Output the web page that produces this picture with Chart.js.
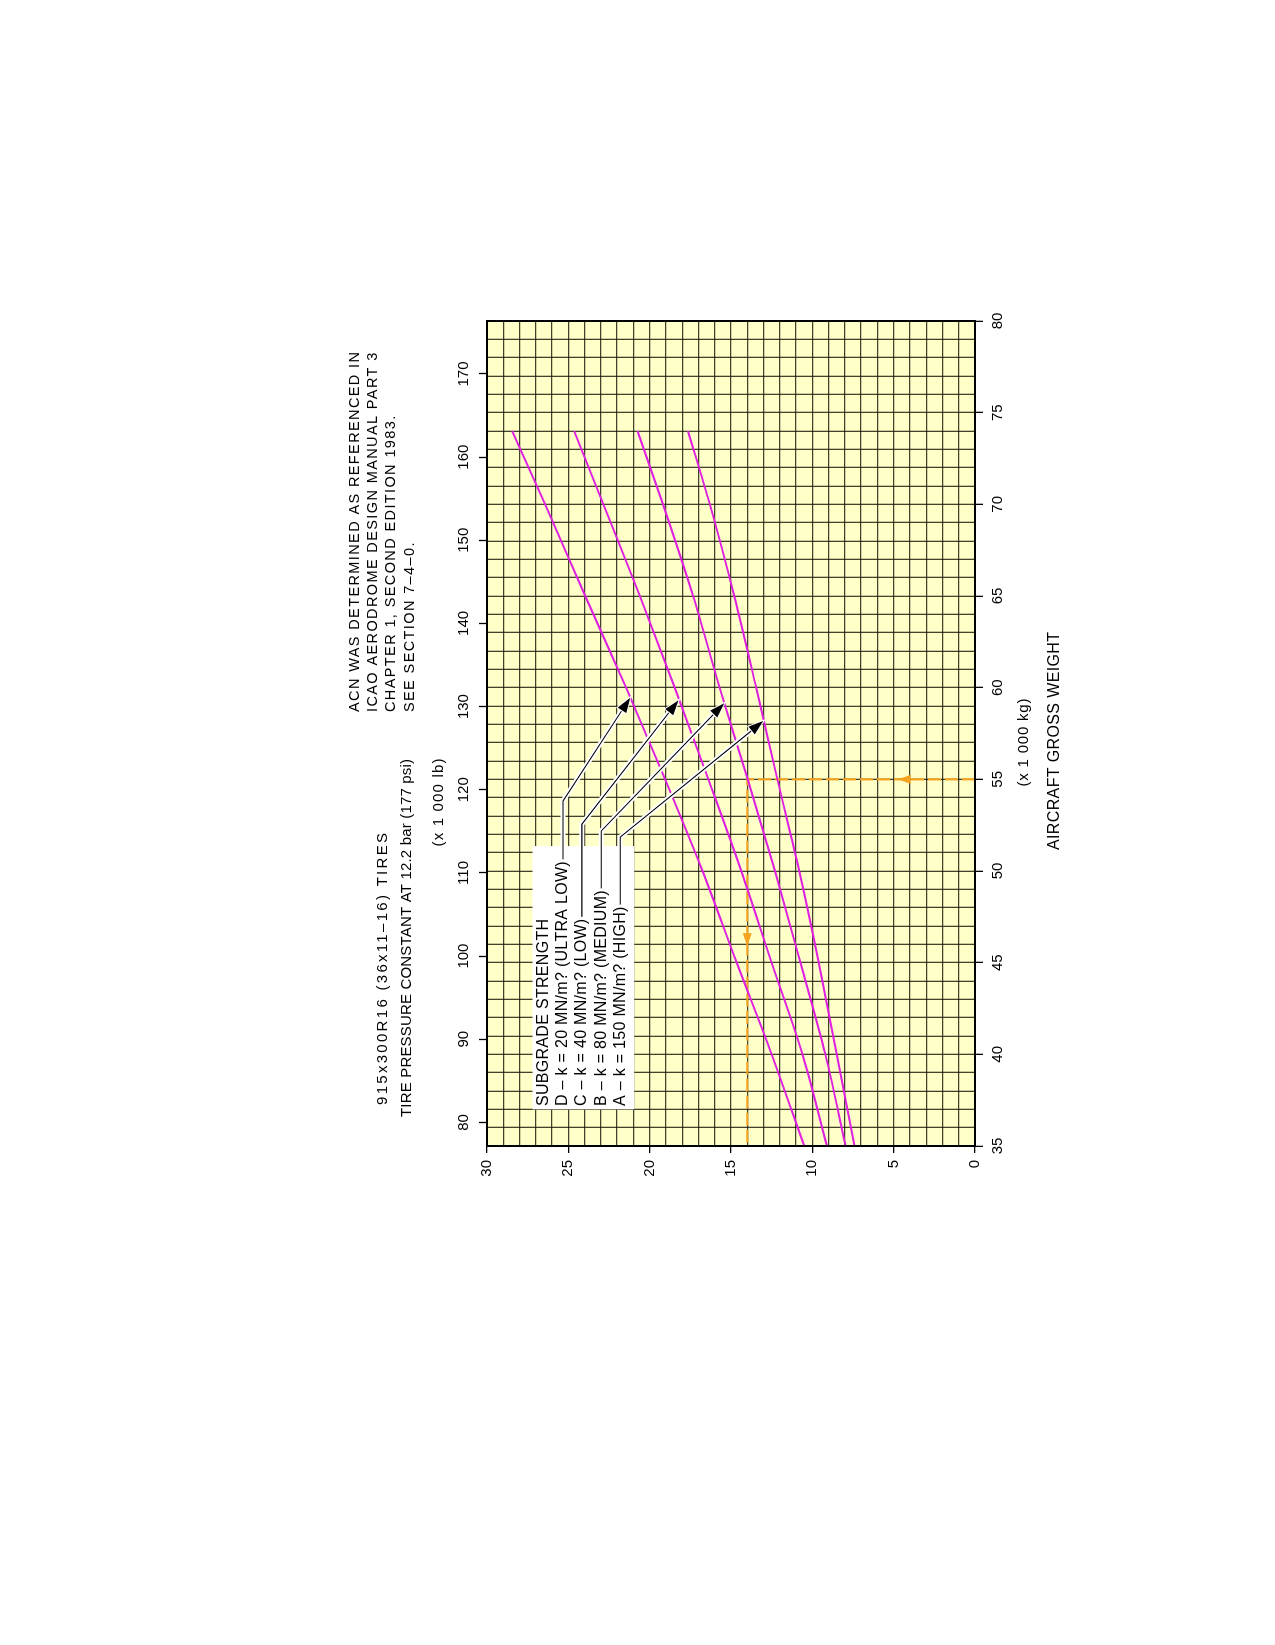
<!DOCTYPE html>
<html>
<head>
<meta charset="utf-8">
<script src="https://cdn.jsdelivr.net/npm/chart.js@4.4.1/dist/chart.umd.min.js"></script>
<style>
html, body { margin: 0; padding: 0; background: #fff; width: 1275px; height: 1645px; overflow: hidden; }
/* the chart is laid out landscape and turned a quarter turn to the left */
#wrap { position: absolute; left: -185px; top: 185px; width: 1645px; height: 1275px; transform: rotate(-90deg); }
</style>
</head>
<body>
<div id="wrap"><canvas id="acn" width="1645" height="1275"></canvas></div>
<script>
// ACN vs aircraft gross weight, flexible pavement style chart
var weightKg = [35, 40, 45, 50, 55, 60, 65, 70, 74];
var acnA = [7.4, 8.5, 9.6, 10.8, 12.15, 13.45, 14.8, 16.3, 17.64];
var acnB = [7.95, 9.2, 10.73, 12.3, 13.97, 15.7, 17.33, 19.18, 20.75];
var acnC = [9.1, 10.6, 12.5, 14.37, 16.39, 18.46, 20.6, 22.85, 24.64];
var acnD = [10.5, 12.5, 14.65, 16.75, 19.05, 21.45, 23.96, 26.43, 28.46];

var kgTicks = [35, 40, 45, 50, 55, 60, 65, 70, 75, 80];
var lbTicks = [80, 90, 100, 110, 120, 130, 140, 150, 160, 170];
var acnTicks = [0, 5, 10, 15, 20, 25, 30];

// worked example (orange)
var exampleKg = 55;
var exampleAcn = 14;

var legendTitle = 'SUBGRADE STRENGTH';
var legendLabels = [
	'D \u2013 k = 20 MN/m? (ULTRA LOW)',
	'C \u2013 k = 40 MN/m? (LOW)',
	'B \u2013 k = 80 MN/m? (MEDIUM)',
	'A \u2013 k = 150 MN/m? (HIGH)'
];
var arrowTipKg = [59.45, 59.31, 59.15, 58.18];
var arrowTipAcn = [21.2, 18.23, 15.42, 13.01];
var elbowKg = [53.82, 52.55, 52.18, 51.85];

var noteLines = [
	'ACN WAS DETERMINED AS REFERENCED IN',
	'ICAO AERODROME DESIGN MANUAL PART 3',
	'CHAPTER 1, SECOND EDITION 1983.',
	'SEE SECTION 7\u20134\u20130.'
];

var KG_TO_LB = 2.20462;
var FONT = '"Liberation Sans", Arial, Helvetica, sans-serif';
var MAGENTA = '#E020E0';
var ORANGE = '#F5A21E';
var GRID = 'rgba(25,25,10,0.82)';

function pts(ys) {
	return weightKg.map(function(w, i) { return {x: w, y: ys[i]}; });
}

function curve(label, ys) {
	return {
		label: label,
		data: pts(ys),
		showLine: true,
		borderColor: MAGENTA,
		backgroundColor: MAGENTA,
		borderWidth: 2,
		pointRadius: 0,
		cubicInterpolationMode: 'monotone'
	};
}

function range(a, b) {
	var out = [];
	for (var i = a; i <= b; i++) out.push({value: i});
	return out;
}

// text helper: optional target width is reached with letter spacing
function txt(ctx, s, x, y, size, align, width, spacing) {
	ctx.font = size + 'px ' + FONT;
	ctx.letterSpacing = '0px';
	var w = ctx.measureText(s).width;
	var sp = spacing || 0;
	if (width) sp = (width - w) / (s.length - 1);
	ctx.letterSpacing = sp + 'px';
	var full = w + sp * (s.length - 1);
	var left = align === 'center' ? x - full / 2 : x;
	ctx.textAlign = 'left';
	ctx.textBaseline = 'middle';
	ctx.fillStyle = '#000';
	ctx.fillText(s, left, y);
	ctx.letterSpacing = '0px';
	return {sp: sp, end: left + full};
}

function head(ctx, x0, y0, x1, y1, len, half) {
	var a = Math.atan2(y1 - y0, x1 - x0);
	var bx = x1 - len * Math.cos(a), by = y1 - len * Math.sin(a);
	ctx.beginPath();
	ctx.moveTo(x1, y1);
	ctx.lineTo(bx + half * Math.sin(a), by - half * Math.cos(a));
	ctx.lineTo(bx - half * Math.sin(a), by + half * Math.cos(a));
	ctx.closePath();
}

var decor = {
	id: 'decor',
	beforeDraw: function(chart) {
		var ctx = chart.ctx, a = chart.chartArea;
		ctx.save();
		ctx.fillStyle = '#fff';
		ctx.fillRect(0, 0, chart.width, chart.height);
		ctx.fillStyle = '#FFFFC8';
		ctx.fillRect(a.left, a.top, a.right - a.left, a.bottom - a.top);
		ctx.restore();
	},
	afterDatasetsDraw: function(chart) {
		var ctx = chart.ctx, a = chart.chartArea;
		var xs = chart.scales.x, ys = chart.scales.y;
		ctx.save();

		// plot frame
		ctx.strokeStyle = '#000';
		ctx.lineWidth = 2;
		ctx.strokeRect(a.left, a.top, a.right - a.left, a.bottom - a.top);

		// orange arrow heads
		ctx.fillStyle = ORANGE;
		var ex = xs.getPixelForValue(exampleKg);
		head(ctx, ex, ys.getPixelForValue(3), ex, ys.getPixelForValue(4.75), 13, 4.5);
		ctx.fill();
		var ey = ys.getPixelForValue(exampleAcn);
		head(ctx, xs.getPixelForValue(47), ey, xs.getPixelForValue(45.9), ey, 13, 4.5);
		ctx.fill();

		// legend box
		var bx0 = xs.getPixelForValue(37.0), bx1 = xs.getPixelForValue(51.36);
		var by0 = ys.getPixelForValue(27.2), by1 = ys.getPixelForValue(20.95);
		ctx.fillStyle = '#fff';
		ctx.fillRect(bx0, by0, bx1 - bx0, by1 - by0);

		var tx = xs.getPixelForValue(37.18);
		var rowAcn = [26.52, 25.33, 24.17, 22.98, 21.81];
		txt(ctx, legendTitle, tx, ys.getPixelForValue(rowAcn[0]), 16, 'left', null, 0.3);
		for (var i = 0; i < legendLabels.length; i++) {
			var ry = ys.getPixelForValue(rowAcn[i + 1]);
			var r = txt(ctx, legendLabels[i], tx, ry, 16, 'left', null, 0.3);
			var path = [
				[r.end + 2, ry],
				[xs.getPixelForValue(elbowKg[i]), ry],
				[xs.getPixelForValue(arrowTipKg[i]), ys.getPixelForValue(arrowTipAcn[i])]
			];
			var p1 = path[1], p2 = path[2];
			var ang = Math.atan2(p2[1] - p1[1], p2[0] - p1[0]);
			var stop = [p2[0] - 12 * Math.cos(ang), p2[1] - 12 * Math.sin(ang)];
			// white halo then black line
			ctx.lineJoin = 'miter';
			ctx.beginPath();
			ctx.moveTo(path[0][0], path[0][1]);
			ctx.lineTo(p1[0], p1[1]);
			ctx.lineTo(stop[0], stop[1]);
			ctx.strokeStyle = '#fff';
			ctx.lineWidth = 5;
			ctx.stroke();
			ctx.strokeStyle = '#000';
			ctx.lineWidth = 1.1;
			ctx.stroke();
			head(ctx, p1[0], p1[1], p2[0], p2[1], 15, 5);
			ctx.strokeStyle = '#fff';
			ctx.lineWidth = 2;
			ctx.stroke();
			ctx.fillStyle = '#000';
			ctx.fill();
		}
		ctx.restore();
	},
	afterDraw: function(chart) {
		var ctx = chart.ctx;
		ctx.save();
		txt(ctx, '915x300R16 (36x11\u201316) TIRES', 540, 383, 15, 'left', 272);
		txt(ctx, 'TIRE PRESSURE CONSTANT AT 12.2 bar (177 psi)', 528, 406.5, 15, 'left', 358);
		txt(ctx, '(x 1 000 lb)', 842.5, 438.5, 15, 'center', 88);
		var first = txt(ctx, noteLines[0], 933, 355, 14.5, 'left', 360);
		for (var i = 1; i < noteLines.length; i++) {
			txt(ctx, noteLines[i], 933, 355 + 18.2 * i, 14.5, 'left', null, first.sp);
		}
		txt(ctx, '(x 1 000 kg)', 902.5, 1023.5, 15, 'center', 88);
		txt(ctx, 'AIRCRAFT GROSS WEIGHT', 904, 1055, 16, 'center', 218);
		ctx.restore();
	}
};

function majorTick(list) {
	return function(c) {
		return (c.tick && list.indexOf(c.tick.value) >= 0) ? '#000' : 'rgba(0,0,0,0)';
	};
}

var tickFont = {family: FONT, size: 15};

var chart = new Chart(document.getElementById('acn'), {
	type: 'scatter',
	data: {
		datasets: [
			curve('D', acnD),
			curve('C', acnC),
			curve('B', acnB),
			curve('A', acnA),
			{
				label: 'example',
				data: [{x: exampleKg, y: 0}, {x: exampleKg, y: exampleAcn}, {x: 35, y: exampleAcn}],
				showLine: true,
				borderColor: ORANGE,
				borderWidth: 2.2,
				borderDash: [13, 4],
				pointRadius: 0
			}
		]
	},
	options: {
		responsive: false,
		animation: false,
		devicePixelRatio: 1,
		layout: {padding: {left: 449, right: 321, top: 437, bottom: 250}},
		plugins: {legend: {display: false}, tooltip: {enabled: false}},
		scales: {
			x: {
				type: 'linear', position: 'bottom', min: 35, max: 80,
				afterBuildTicks: function(s) { s.ticks = range(35, 80); },
				afterFit: function(s) { s.height = 50; },
				border: {display: false},
				grid: {color: GRID, lineWidth: 1.3, tickLength: 8, tickWidth: 1.3, tickColor: majorTick(kgTicks)},
				ticks: {
					autoSkip: false, maxRotation: 0, minRotation: 0, padding: 6, color: '#000', font: tickFont,
					callback: function(v) { return kgTicks.indexOf(v) >= 0 ? String(v) : ''; }
				}
			},
			x2: {
				type: 'linear', axis: 'x', position: 'top',
				min: 35 * KG_TO_LB, max: 80 * KG_TO_LB,
				afterBuildTicks: function(s) { s.ticks = lbTicks.map(function(v) { return {value: v}; }); },
				afterFit: function(s) { s.height = 50; },
				border: {display: false},
				grid: {drawOnChartArea: false, tickLength: 8, tickWidth: 1.3, tickColor: '#000'},
				ticks: {autoSkip: false, maxRotation: 0, minRotation: 0, padding: 6, color: '#000', font: tickFont}
			},
			y: {
				type: 'linear', position: 'left', min: 0, max: 30,
				afterBuildTicks: function(s) { s.ticks = range(0, 30); },
				afterFit: function(s) { s.width = 50; },
				border: {display: false},
				grid: {color: GRID, lineWidth: 1.3, tickLength: 7, tickWidth: 1.3, tickColor: majorTick(acnTicks)},
				ticks: {
					autoSkip: false, padding: 7, color: '#000', font: tickFont,
					callback: function(v) { return acnTicks.indexOf(v) >= 0 ? String(v) : ''; }
				}
			}
		}
	},
	plugins: [decor]
});
</script>
</body>
</html>
